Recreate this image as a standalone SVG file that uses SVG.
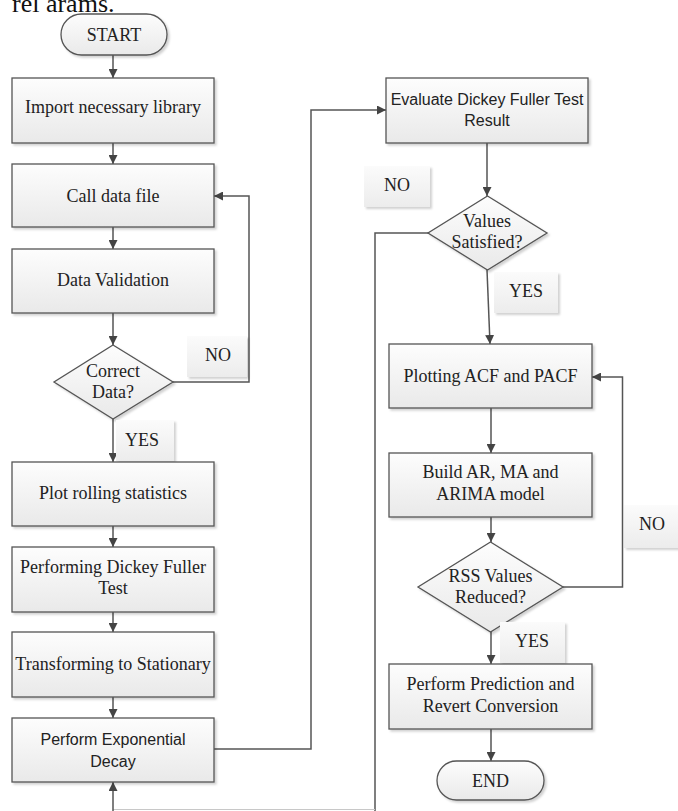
<svg xmlns="http://www.w3.org/2000/svg" width="678" height="811" viewBox="0 0 678 811">
<defs>
<linearGradient id="g" x1="0" y1="0" x2="0" y2="1">
<stop offset="0" stop-color="#fdfdfd"/>
<stop offset="1" stop-color="#e9e9e9"/>
</linearGradient>
<linearGradient id="lg" x1="0" y1="0" x2="0" y2="1">
<stop offset="0" stop-color="#fbfbfb"/>
<stop offset="1" stop-color="#ececec"/>
</linearGradient>
<filter id="sh" x="-10%" y="-10%" width="125%" height="130%">
<feDropShadow dx="2" dy="2" stdDeviation="1.2" flood-color="#000" flood-opacity="0.18"/>
</filter>
<marker id="ah" viewBox="0 0 10 10" refX="10" refY="5" markerWidth="9" markerHeight="9" markerUnits="userSpaceOnUse" orient="auto">
<path d="M0,0 L10,5 L0,10 z" fill="#444"/>
</marker>
</defs>
<style>
.box{fill:url(#g);stroke:#555;stroke-width:1.3;filter:url(#sh)}
.lab{fill:url(#lg);stroke:none;filter:url(#sh)}
.t{font-family:"Liberation Serif","Times New Roman",serif;font-size:18px;fill:#222;text-anchor:middle}
.s{font-family:"Liberation Sans",Arial,sans-serif;font-size:16px;fill:#222;text-anchor:middle}
.c{fill:none;stroke:#555;stroke-width:1.5}
</style>
<rect width="678" height="811" fill="#fff"/>
<text x="12" y="12" font-family="Liberation Serif, serif" font-size="26" fill="#111">rel arams.</text>

<g id="connectors">
<line class="c" x1="113" y1="55" x2="113" y2="78" marker-end="url(#ah)"/>
<line class="c" x1="113" y1="143" x2="113" y2="164" marker-end="url(#ah)"/>
<line class="c" x1="113" y1="227" x2="113" y2="249" marker-end="url(#ah)"/>
<line class="c" x1="113" y1="313" x2="113" y2="345" marker-end="url(#ah)"/>
<polyline class="c" points="173,382 249,382 249,196 214,196" marker-end="url(#ah)"/>
<line class="c" x1="113" y1="419" x2="113" y2="462" marker-end="url(#ah)"/>
<line class="c" x1="113" y1="526" x2="113" y2="547" marker-end="url(#ah)"/>
<line class="c" x1="113" y1="612" x2="113" y2="632" marker-end="url(#ah)"/>
<line class="c" x1="113" y1="697" x2="113" y2="718" marker-end="url(#ah)"/>
<polyline class="c" points="214,749 311,749 311,110 386,110" marker-end="url(#ah)"/>
<line class="c" x1="487" y1="143" x2="487" y2="196" marker-end="url(#ah)"/>
<polyline class="c" points="428,233 375,233 375,811"/>
<line x1="113" y1="809.5" x2="375" y2="809.5" stroke="#c8c8c8" stroke-width="1"/>
<line class="c" x1="113" y1="811" x2="113" y2="782" marker-end="url(#ah)"/>
<line class="c" x1="487" y1="270" x2="490" y2="344" marker-end="url(#ah)"/>
<line class="c" x1="491" y1="408" x2="491" y2="453" marker-end="url(#ah)"/>
<line class="c" x1="491" y1="517" x2="491" y2="542" marker-end="url(#ah)"/>
<polyline class="c" points="563,587 622.5,587 622.5,377 592,377" marker-end="url(#ah)"/>
<line class="c" x1="491" y1="632" x2="491" y2="664" marker-end="url(#ah)"/>
<line class="c" x1="491" y1="729" x2="491" y2="761" marker-end="url(#ah)"/>
</g>

<g id="start"><rect class="box" x="61" y="14" width="106" height="41" rx="20.5"/><text class="t" x="114" y="41">START</text></g>
<g id="import"><rect class="box" x="12" y="78" width="202" height="65"/><text class="t" x="113" y="113">Import necessary library</text></g>
<g id="call"><rect class="box" x="12" y="164" width="202" height="63"/><text class="t" x="113" y="202">Call data file</text></g>
<g id="validation"><rect class="box" x="12" y="249" width="202" height="64"/><text class="t" x="113" y="286">Data Validation</text></g>
<g id="correct"><polygon class="box" points="113,345 173,382 113,419 54,382"/><text class="t" x="113" y="377">Correct</text><text class="t" x="113" y="398">Data?</text></g>
<g id="no1"><rect class="lab" x="187" y="336" width="60" height="41"/><text class="t" x="218" y="361">NO</text></g>
<g id="yes1"><rect class="lab" x="116" y="420" width="58" height="41"/><text class="t" x="142" y="446">YES</text></g>
<g id="rolling"><rect class="box" x="12" y="462" width="202" height="64"/><text class="t" x="113" y="499">Plot rolling statistics</text></g>
<g id="dickey"><rect class="box" x="12" y="547" width="202" height="65"/><text class="t" x="113" y="573">Performing Dickey Fuller</text><text class="t" x="113" y="594">Test</text></g>
<g id="transform"><rect class="box" x="12" y="632" width="202" height="65"/><text class="t" x="113" y="670">Transforming to Stationary</text></g>
<g id="expdecay"><rect class="box" x="12" y="718" width="202" height="64"/><text class="s" x="113" y="745">Perform Exponential</text><text class="s" x="113" y="767">Decay</text></g>
<g id="evaluate"><rect class="box" x="386" y="78" width="202" height="65"/><text class="s" x="487" y="105">Evaluate Dickey Fuller Test</text><text class="s" x="487" y="126">Result</text></g>
<g id="no2"><rect class="lab" x="364" y="166" width="66" height="41"/><text class="t" x="397" y="191">NO</text></g>
<g id="satisfied"><polygon class="box" points="487.5,196 547,233 487.5,270 428,233"/><text class="t" x="487" y="227">Values</text><text class="t" x="487" y="248">Satisfied?</text></g>
<g id="yes2"><rect class="lab" x="494" y="272" width="64" height="41"/><text class="t" x="526" y="297">YES</text></g>
<g id="plotting"><rect class="box" x="389" y="344" width="203" height="64"/><text class="t" x="490.5" y="382">Plotting ACF and PACF</text></g>
<g id="build"><rect class="box" x="389" y="453" width="203" height="64"/><text class="t" x="490.5" y="478">Build AR, MA and</text><text class="t" x="490.5" y="500">ARIMA model</text></g>
<g id="no3"><rect class="lab" x="624" y="505" width="58" height="43"/><text class="t" x="652" y="530">NO</text></g>
<g id="rss"><polygon class="box" points="490.5,542 563,587 490.5,632 418,587"/><text class="t" x="490.5" y="582">RSS Values</text><text class="t" x="490.5" y="603">Reduced?</text></g>
<g id="yes3"><rect class="lab" x="500" y="622" width="65" height="41"/><text class="t" x="532" y="647">YES</text></g>
<g id="predict"><rect class="box" x="389" y="664" width="203" height="65"/><text class="t" x="490.5" y="690">Perform Prediction and</text><text class="t" x="490.5" y="712">Revert Conversion</text></g>
<g id="end"><rect class="box" x="437" y="761" width="107" height="39" rx="19.5"/><text class="t" x="490.5" y="787">END</text></g>
</svg>
